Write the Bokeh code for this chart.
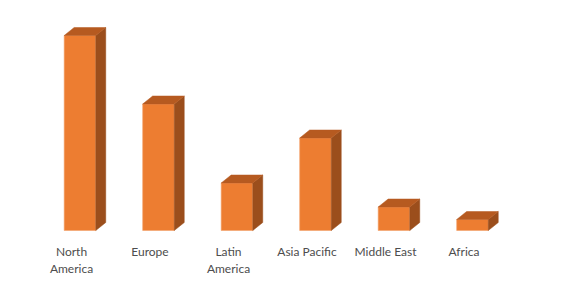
from bokeh.plotting import figure
from bokeh.models import Range1d, ColumnDataSource
from bokeh.core.properties import value
from bokeh.embed import file_html
from bokeh.resources import INLINE

# Data (share values)
categories = ["North America", "Europe", "Latin America", "Asia Pacific", "Middle East", "Africa"]
labels = ["North\nAmerica", "Europe", "Latin\nAmerica", "Asia Pacific", "Middle East", "Africa"]
values = [39.0, 25.3, 9.5, 18.5, 4.7, 2.2]

# style / geometry (in data units)
BAR_SHIFT = 0.108
BAR_W = 0.4025
DX = 0.127
DY = 1.6
FRONT = "#ED7D31"
TOP = "#B65A20"
SIDE = "#9B4E1C"

p = figure(width=564, height=288, output_backend="svg", toolbar_location=None,
           x_range=Range1d(-0.9045, 6.2803), y_range=Range1d(-11.6, 46),
           min_border=0, outline_line_color=None)
p.axis.visible = False
p.grid.visible = False
p.background_fill_color = "white"
p.border_fill_color = "white"

xs = [i + BAR_SHIFT for i in range(len(values))]
p.vbar(x=xs, top=values, bottom=0, width=BAR_W, fill_color=FRONT,
       line_color="#F3A36B", line_width=0.6)

top_x, top_y, side_x, side_y = [], [], [], []
for x, v in zip(xs, values):
    x0, x1 = x - BAR_W / 2, x + BAR_W / 2
    top_x.append([x0, x1, x1 + DX, x0 + DX])
    top_y.append([v, v, v + DY, v + DY])
    side_x.append([x1, x1 + DX, x1 + DX, x1])
    side_y.append([0, DY, v + DY, v])

p.patches(side_x, side_y, fill_color=SIDE, line_color=SIDE, line_width=0.5)
p.patches(top_x, top_y, fill_color=TOP, line_color=TOP, line_width=0.5)

src = ColumnDataSource(dict(x=list(range(len(labels))), y=[-2.7] * len(labels), t=labels))
p.text(x="x", y="y", text="t", source=src, text_align="center", text_baseline="top",
       text_font=value("Lato"), text_font_size="12px", text_color="#4D4D4D",
       text_line_height=1.15)

open("out.html", "w").write(file_html(p, INLINE))
